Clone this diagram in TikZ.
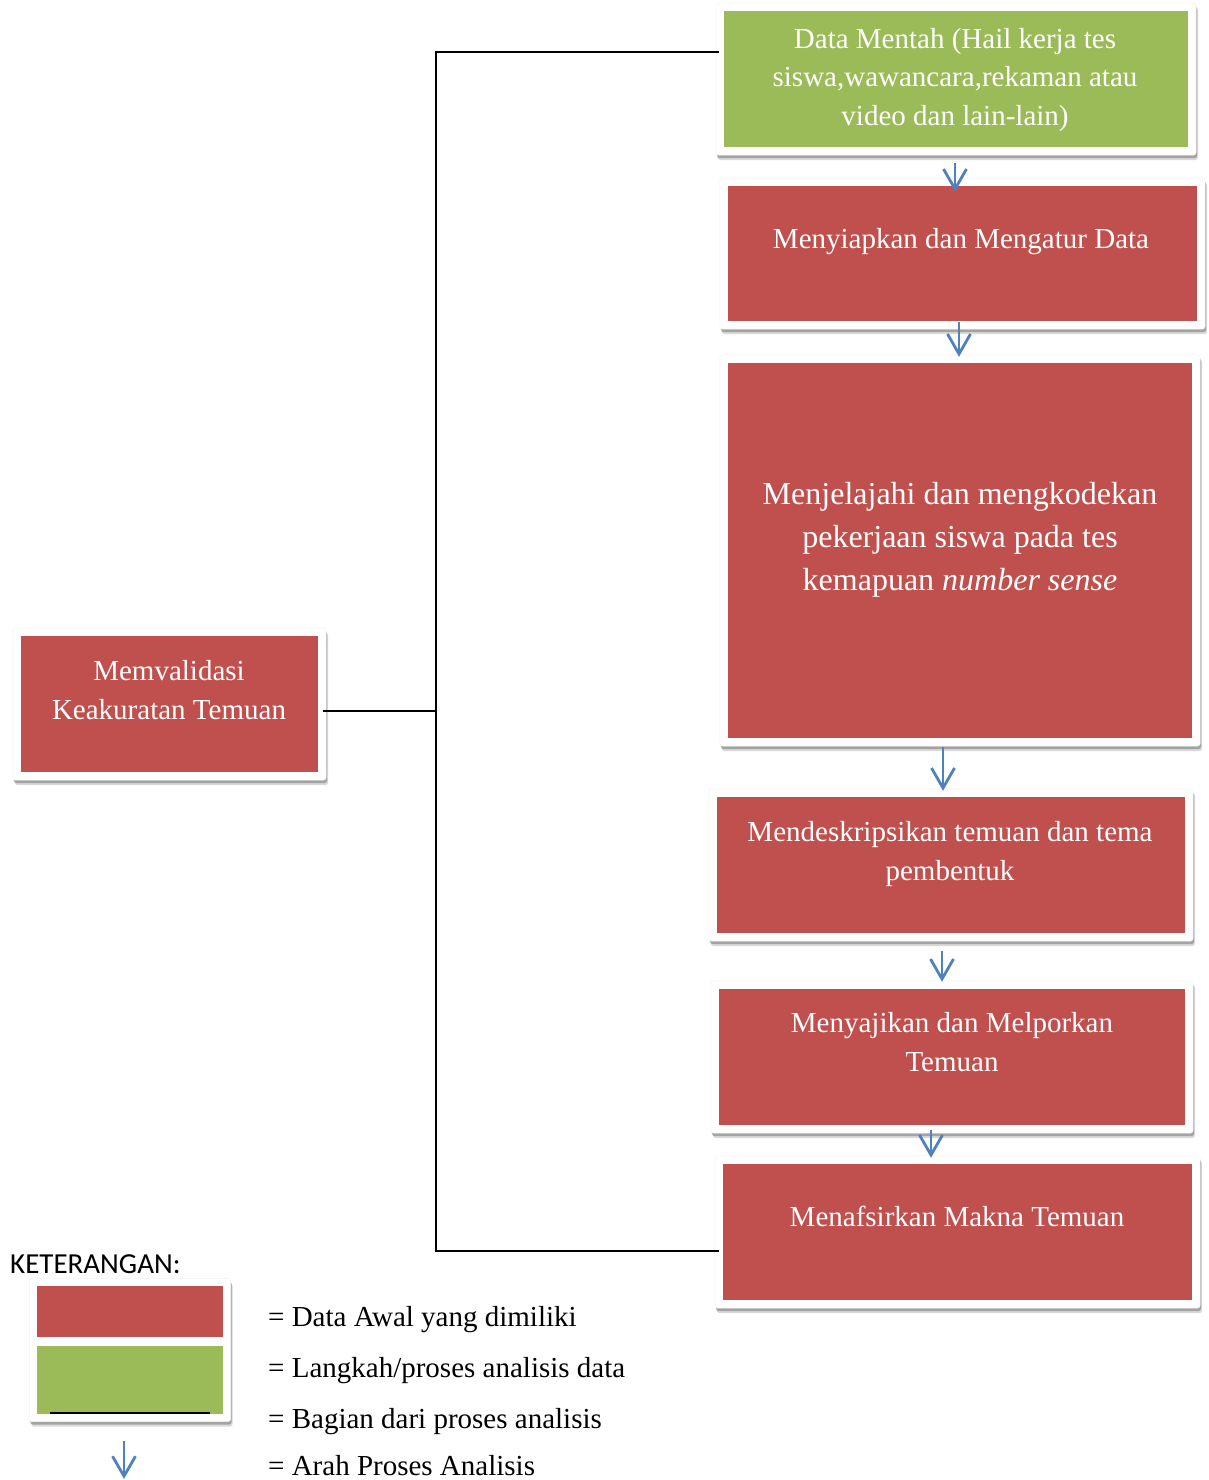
\documentclass[tikz,border=0pt]{standalone}
\usepackage{fontspec}
\setmainfont{Liberation Serif}
\newfontfamily\legendsans{Carlito}
\usetikzlibrary{arrows.meta,calc,fit,shadows,backgrounds}
\definecolor{boxred}{HTML}{C0504D}
\definecolor{boxgreen}{HTML}{9BBB59}
\definecolor{arrblue}{HTML}{4F81BD}
\tikzset{
  rbox/.style={rectangle, fill=boxred, draw=none, inner sep=0pt},
  gbox/.style={rectangle, fill=boxgreen, draw=none, inner sep=0pt},
  frame/.style={rectangle, rounded corners=3pt, fill=white, draw=black!5, line width=0.5pt, inner sep=8pt,
    drop shadow={shadow xshift=2pt, shadow yshift=-5pt, opacity=0.15, fill=black},
    drop shadow={shadow xshift=1pt, shadow yshift=-3pt, opacity=0.25, fill=black}},
  txt/.style={text=white, align=center, font=\fontsize{29}{38.5}\selectfont, inner sep=0pt},
  bigtxt/.style={text=white, align=center, font=\fontsize{32}{43}\selectfont, inner sep=0pt},
  legtxt/.style={anchor=west, font=\fontsize{29}{35}\selectfont, inner sep=0pt},
  arr/.style={draw=arrblue, line width=2.8pt, -{Straight Barb[length=20pt,width=23pt,line width=2.8pt]}},
  ln/.style={draw=black, line width=1.8pt}
}
\begin{document}
\begin{tikzpicture}[x=1pt,y=-1pt]
\useasboundingbox (0,0) rectangle (1208,1480);
% main boxes
\node[gbox, minimum width=464, minimum height=136] (n1) at (956,79) {};
\node[rbox, minimum width=469, minimum height=135] (n2) at (962.5,253.5) {};
\node[rbox, minimum width=464, minimum height=375] (n3) at (960,550.5) {};
\node[rbox, minimum width=468, minimum height=136] (n4) at (951,865) {};
\node[rbox, minimum width=466, minimum height=136] (n5) at (952,1057) {};
\node[rbox, minimum width=469, minimum height=136] (n6) at (957.5,1232) {};
\node[rbox, minimum width=297, minimum height=136] (n7) at (169.5,704) {};
% legend boxes
\node[rbox, minimum width=186, minimum height=51] (lr) at (130,1311.5) {};
\node[gbox, minimum width=186, minimum height=68] (lg) at (130,1380) {};
\begin{pgfonlayer}{background}
\node[frame, fit=(n1)] (f1) {};
\node[frame, fit=(n2)] (f2) {};
\node[frame, fit=(n3)] (f3) {};
\node[frame, fit=(n4)] (f4) {};
\node[frame, fit=(n5)] (f5) {};
\node[frame, fit=(n6)] (f6) {};
\node[frame, fit=(n7)] (f7) {};
\node[frame, inner sep=7.5pt, fit=(lr)(lg)] (fl) {};
\end{pgfonlayer}
% texts
\node[txt] (t1) at (955,80) {Data Mentah (Hail kerja tes\\siswa,wawancara,rekaman atau\\video dan lain-lain)};
\node[txt] (t2) at (961,242) {Menyiapkan dan Mengatur Data};
\node[bigtxt] (t3) at (960,540) {Menjelajahi dan mengkodekan\\pekerjaan siswa pada tes\\kemapuan \textit{number sense}};
\node[txt] (t4) at (950,854) {Mendeskripsikan temuan dan tema\\pembentuk};
\node[txt] (t5) at (952,1042) {Menyajikan dan Melporkan\\Temuan};
\node[txt] (t6) at (957,1216) {Menafsirkan Makna Temuan};
\node[txt] (t7) at (169,690) {Memvalidasi\\Keakuratan Temuan};
% arrows
\draw[arr] ($(n1.south)+(-1,16)$) -- ($(n2.north)+(-7.5,6)$);
\draw[arr] ($(n2.south)+(-3.5,1)$) -- ($(n3.north)+(-1,-6)$);
\draw[arr] ($(n3.south)+(-17,9)$) -- ($(n4.north)+(-8,-6)$);
\draw[arr] ($(n4.south)+(-9,18)$) -- ($(n5.north)+(-10,-7)$);
\draw[arr] ($(n5.south)+(-21,5)$) -- ($(n6.north)+(-26.5,-6)$);
% spine
\coordinate (spT) at (436,52);
\coordinate (spM) at (436,711);
\coordinate (spB) at (436,1251);
\draw[ln] ($(n1.west)+(-5,-27)$) -- (spT) -- (spB) -- ($(n6.west)+(-4,19)$);
\draw[ln] ($(n7.east)+(5,7)$) -- (spM);
% legend
\node[anchor=west, inner sep=0pt, font=\legendsans\fontsize{29}{35}\selectfont] (kt) at (10,1264) {KETERANGAN:};
\draw[line width=2.2pt, black] ($(lg.south west)+(13,-1.5)$) -- ($(lg.south east)+(-13,-1.5)$);
\node[legtxt] (l1) at (268,1320) {= Data Awal yang dimiliki};
\node[legtxt] (l2) at (268,1371) {= Langkah/proses analisis data};
\node[legtxt] (l3) at (268,1422) {= Bagian dari proses analisis};
\node[legtxt] (l4) at (268,1466) {= Arah Proses Analisis};
\coordinate (la1) at (124,1441);
\coordinate (la2) at (124,1479);
\draw[arr] (la1) -- (la2);
\end{tikzpicture}
\end{document}
